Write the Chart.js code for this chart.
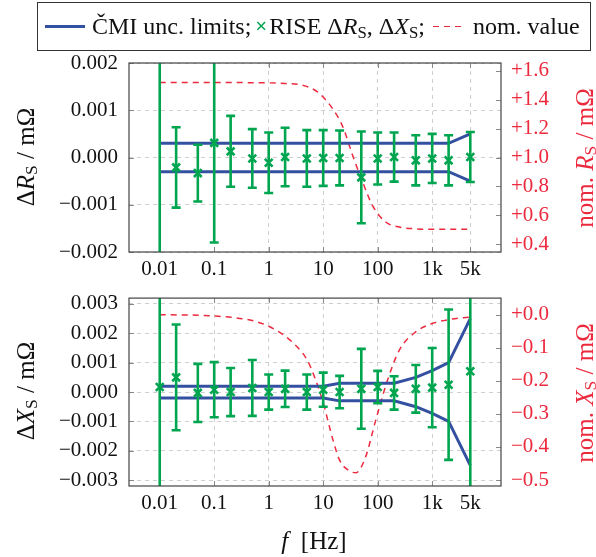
<!DOCTYPE html>
<html>
<head>
<meta charset="utf-8">
<title>RISE vs. ČMI</title>
<script src="https://cdn.jsdelivr.net/npm/chart.js@4.4.1/dist/chart.umd.min.js"></script>
<style>
  body { margin: 0; background: #fff; }
  #wrap { position: relative; width: 596px; height: 557px; overflow: hidden; font-family: "Liberation Serif", "Times New Roman", serif; color: #111; }
  canvas { position: absolute; left: 0; }
  .rot { position: absolute; white-space: nowrap; font-size: 25px; line-height: 1; transform: translate(-50%, -50%) rotate(-90deg); }
  .red { color: #ec2a3e; }
  sub { font-size: 0.7em; vertical-align: -0.22em; line-height: 0; }
  #legend { position: absolute; left: 37px; top: 2px; width: 552px; height: 47px; border: 1px solid #333; font-size: 24px;
            display: flex; align-items: center; white-space: nowrap; box-sizing: content-box; }
  #legend .ln { display: inline-block; height: 3px; }
  #xlabel { position: absolute; left: 314px; top: 540px; transform: translate(-50%, -50%); font-size: 25px; white-space: nowrap; line-height: 1; }
</style>
</head>
<body>
<div id="wrap">
  <canvas id="topChart" width="596" height="290" style="top:0"></canvas>
  <canvas id="botChart" width="596" height="267" style="top:290px"></canvas>

  <div id="legend">
    <span class="ln" style="margin-left:7px;width:40px;background:#3450a0"></span>
    <span style="margin-left:7px">ČMI unc. limits;</span>
    <span style="margin-left:4px;color:#00a550;font-weight:bold;font-size:21px">×</span>
    <span style="margin-left:2px">RISE Δ<i>R</i><sub>S</sub>, Δ<i>X</i><sub>S</sub>;</span>
    <span class="ln" style="margin-left:8px;width:30px;height:1.6px;background:repeating-linear-gradient(90deg,#ec2a3e 0 6px,transparent 6px 11px)"></span>
    <span style="margin-left:10px">nom. value</span>
  </div>

  <div class="rot" style="left:25px;top:157px">Δ<i>R</i><sub>S</sub> / mΩ</div>
  <div class="rot" style="left:25px;top:391px">Δ<i>X</i><sub>S</sub> / mΩ</div>
  <div class="rot red" style="left:584px;top:158px">nom. <i>R</i><sub>S</sub> / mΩ</div>
  <div class="rot red" style="left:584px;top:393px">nom. <i>X</i><sub>S</sub> / mΩ</div>
  <div id="xlabel"><i>f</i>&nbsp; [Hz]</div>
</div>

<script>
// ---------- data ----------
const freqs = [0.01, 0.02, 0.05, 0.1, 0.2, 0.5, 1, 2, 5, 10, 20, 50, 100, 200, 500, 1000, 2000, 5000];

// upper panel: RISE deviation of Rs and its uncertainty, CMI limits
const riseR = [-0.0035, -0.00021, -0.00033, 0.00031, 0.00013, -0.00002, -0.00011, 0.00001, -0.00002, -0.00001,
  -0.00001, -0.00042, -0.00002, 0.00001, -0.00006, -0.00002, -0.00006, 0.00001];
const riseRErr = [0.01, 0.00085, 0.0006, 0.00211, 0.00075, 0.00062, 0.00064, 0.00062, 0.0006, 0.00059,
  0.00058, 0.00097, 0.00055, 0.00052, 0.00053, 0.00052, 0.00053, 0.00053];
const limR = [0.0003, 0.0003, 0.0003, 0.0003, 0.0003, 0.0003, 0.0003, 0.0003, 0.0003, 0.0003,
  0.0003, 0.0003, 0.0003, 0.0003, 0.0003, 0.0003, 0.0003, 0.0005];

// lower panel: RISE deviation of Xs and its uncertainty, CMI limits
const riseX = [0.00017, 0.0005, -0.00003, 0.00008, 0, 0.00014, 0, 0.00011, 0, 0.00008,
  0, 0.00011, 0.00017, -0.00003, 0.00011, 0.00015, 0.00025, 0.00071];
const riseXErr = [0.01, 0.0018, 0.00099, 0.00094, 0.00082, 0.00095, 0.0006, 0.00062, 0.0006, 0.00058,
  0.00055, 0.00136, 0.00055, 0.00057, 0.00081, 0.00135, 0.00256, 0.01];
const limX = [0.0002, 0.0002, 0.0002, 0.0002, 0.0002, 0.0002, 0.0002, 0.0002, 0.0002, 0.0002,
  0.0003, 0.0003, 0.0003, 0.0003, 0.0005, 0.00073, 0.001, 0.0025];

// nominal values (right axes)
const nomRFreq = [0.01, 0.1, 1, 2, 4, 8, 15, 23, 35, 53, 80, 140, 250, 500, 1000, 5000];
const nomR = [1.517, 1.517, 1.515, 1.51, 1.5, 1.45, 1.335, 1.21, 1.01, 0.83, 0.67, 0.555, 0.52, 0.508, 0.505, 0.505];
const nomXFreq = [0.01, 0.1, 0.5, 1, 2, 3, 5, 7, 10, 15, 20, 30, 40, 60, 90, 150, 250, 500, 1000, 2000, 5000];
const nomX = [0, -0.004, -0.018, -0.035, -0.065, -0.09, -0.135, -0.19, -0.267, -0.377, -0.44, -0.472, -0.478,
  -0.43, -0.325, -0.2, -0.107, -0.052, -0.027, -0.015, -0.007];

// ticks
const xTickVals = [0.01, 0.1, 1, 10, 100, 1000, 5000];
const xTickLabels = ['0.01', '0.1', '1', '10', '100', '1k', '5k'];
const dRTicks = [-0.002, -0.001, 0, 0.001, 0.002];
const nomRTicks = [0.4, 0.6, 0.8, 1.0, 1.2, 1.4, 1.6];
const dXTicks = [-0.003, -0.002, -0.001, 0, 0.001, 0.002, 0.003];
const nomXTicks = [-0.5, -0.4, -0.3, -0.2, -0.1, 0];

// ---------- helpers ----------
const GREEN = '#00a550';
const BLUE = '#3450a0';
const RED = '#ec2a3e';
const SERIF = '"Liberation Serif", "Times New Roman", serif';

const fmtFixed = (v, d) => (v < 0 ? '\u2212' : '') + Math.abs(v).toFixed(d);
const fmtSigned = (v, d) => (v < 0 ? '\u2212' : '+') + Math.abs(v).toFixed(d);
const toXY = (xs, ys) => xs.map((x, i) => ({ x: x, y: ys[i] }));
const fixTicks = (vals) => (scale) => { scale.ticks = vals.map((v) => ({ value: v })); };

// error bars with caps, drawn through the chart's scales
function errorBarPlugin(values, errors) {
  return {
    id: 'errorBars',
    afterDatasetsDraw(chart) {
      const { ctx, chartArea: a, scales } = chart;
      ctx.save();
      ctx.beginPath();
      ctx.rect(a.left, a.top, a.width, a.height);
      ctx.clip();
      ctx.strokeStyle = GREEN;
      ctx.lineWidth = 2.6;
      values.forEach((v, i) => {
        const px = scales.x.getPixelForValue(freqs[i]);
        const top = scales.y.getPixelForValue(v + errors[i]);
        const bot = scales.y.getPixelForValue(v - errors[i]);
        ctx.beginPath();
        ctx.moveTo(px, top); ctx.lineTo(px, bot);
        ctx.moveTo(px - 4.5, top); ctx.lineTo(px + 4.5, top);
        ctx.moveTo(px - 4.5, bot); ctx.lineTo(px + 4.5, bot);
        ctx.stroke();
      });
      ctx.restore();
    }
  };
}

// box around the plot + small inner tick marks
const framePlugin = {
  id: 'frame',
  beforeDatasetsDraw(chart) {
    const { ctx, chartArea: a, scales } = chart;
    ctx.save();
    ctx.strokeStyle = '#8a8a8a';
    ctx.lineWidth = 1;
    ctx.beginPath();
    scales.x.ticks.forEach((t) => {
      const px = Math.round(scales.x.getPixelForValue(t.value)) + 0.5;
      ctx.moveTo(px, a.top); ctx.lineTo(px, a.top + 5);
      ctx.moveTo(px, a.bottom); ctx.lineTo(px, a.bottom - 5);
    });
    scales.y.ticks.forEach((t) => {
      const py = Math.round(scales.y.getPixelForValue(t.value)) + 0.5;
      ctx.moveTo(a.left, py); ctx.lineTo(a.left + 5, py);
    });
    scales.y1.ticks.forEach((t) => {
      const py = Math.round(scales.y1.getPixelForValue(t.value)) + 0.5;
      ctx.moveTo(a.right, py); ctx.lineTo(a.right - 5, py);
    });
    ctx.stroke();
    ctx.restore();
  },
  afterDraw(chart) {
    const { ctx, chartArea: a } = chart;
    ctx.save();
    ctx.strokeStyle = '#444';
    ctx.lineWidth = 1.2;
    ctx.strokeRect(a.left, a.top, a.right - a.left, a.bottom - a.top);
    ctx.restore();
  }
};

function makePanel(canvasId, p) {
  const ctx = document.getElementById(canvasId).getContext('2d');
  return new Chart(ctx, {
    type: 'line',
    data: {
      datasets: [
        {
          label: 'RISE',
          data: toXY(freqs, p.rise),
          showLine: false,
          pointStyle: 'crossRot',
          pointRadius: 5.5,
          pointBorderWidth: 2.6,
          borderColor: GREEN,
          backgroundColor: GREEN,
          yAxisID: 'y'
        },
        {
          label: 'ČMI upper',
          data: toXY(freqs, p.lim),
          borderColor: BLUE,
          borderWidth: 3,
          pointRadius: 0,
          yAxisID: 'y'
        },
        {
          label: 'ČMI lower',
          data: toXY(freqs, p.lim.map((v) => -v)),
          borderColor: BLUE,
          borderWidth: 3,
          pointRadius: 0,
          yAxisID: 'y'
        },
        {
          label: 'nom. value',
          data: toXY(p.nomFreq, p.nom),
          borderColor: RED,
          borderWidth: 1.5,
          borderDash: [6, 5],
          pointRadius: 0,
          cubicInterpolationMode: 'monotone',
          yAxisID: 'y1'
        }
      ]
    },
    options: {
      responsive: false,
      animation: false,
      events: [],
      layout: { padding: { top: p.padTop, left: 0, right: 0, bottom: 0 } },
      plugins: { legend: { display: false }, tooltip: { enabled: false } },
      scales: {
        x: {
          type: 'logarithmic',
          min: 0.00273,
          max: 18300,
          bounds: 'data',
          afterBuildTicks: fixTicks(xTickVals),
          afterFit: (s) => { s.height = p.xHeight; s.paddingLeft = 0; s.paddingRight = 0; },
          grid: { color: '#cfcfcf', drawTicks: false },
          border: { display: false, dash: [4, 4] },
          ticks: {
            font: { family: SERIF, size: 21 },
            color: '#111',
            padding: 5,
            autoSkip: false,
            maxRotation: 0,
            callback: (v, i) => xTickLabels[i]
          }
        },
        y: {
          position: 'left',
          min: p.yMin,
          max: p.yMax,
          afterBuildTicks: fixTicks(p.yTicks),
          afterFit: (s) => { s.width = 129; s.paddingTop = 0; s.paddingBottom = 0; },
          grid: { color: '#cfcfcf', drawTicks: false },
          border: { display: false, dash: [4, 4] },
          ticks: { font: { family: SERIF, size: 21 }, color: '#111', padding: 11, callback: (v) => fmtFixed(v, 3) }
        },
        y1: {
          position: 'right',
          min: p.y1Min,
          max: p.y1Max,
          afterBuildTicks: fixTicks(p.y1Ticks),
          afterFit: (s) => { s.width = 95; s.paddingTop = 0; s.paddingBottom = 0; },
          grid: { display: false, drawTicks: false },
          border: { display: false },
          ticks: { font: { family: SERIF, size: 21 }, color: RED, padding: 10, callback: (v) => fmtSigned(v, 1) }
        }
      }
    },
    plugins: [framePlugin, errorBarPlugin(p.rise, p.err)]
  });
}

makePanel('topChart', {
  rise: riseR, err: riseRErr, lim: limR, nomFreq: nomRFreq, nom: nomR,
  yMin: -0.002, yMax: 0.002, yTicks: dRTicks,
  y1Min: 0.348, y1Max: 1.652, y1Ticks: nomRTicks,
  padTop: 63, xHeight: 38
});

makePanel('botChart', {
  rise: riseX, err: riseXErr, lim: limX, nomFreq: nomXFreq, nom: nomX,
  yMin: -0.0032, yMax: 0.0032, yTicks: dXTicks,
  y1Min: -0.518, y1Max: 0.05, y1Ticks: nomXTicks,
  padTop: 7, xHeight: 71
});
</script>
</body>
</html>
